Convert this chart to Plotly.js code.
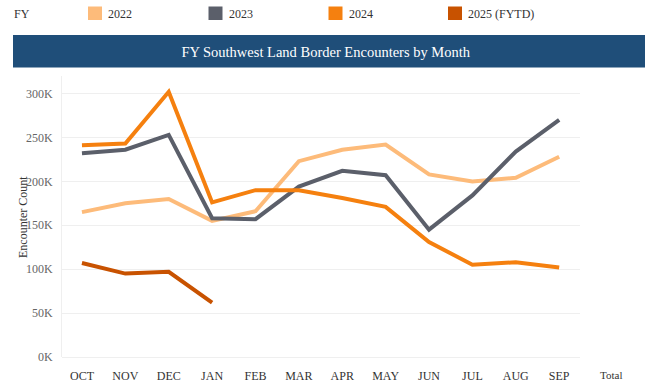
<!DOCTYPE html>
<html>
<head>
<meta charset="utf-8">
<script src="https://cdn.plot.ly/plotly-3.0.1.min.js"></script>
<style>
html,body{margin:0;padding:0;background:#fff;}
#chart{width:645px;height:387px;}
</style>
</head>
<body>
<div id="chart"></div>
<script>
const months = ["OCT","NOV","DEC","JAN","FEB","MAR","APR","MAY","JUN","JUL","AUG","SEP"];
const seriesNames = ["2022","2023","2024","2025 (FYTD)"];
const seriesColors = ["#FDBB7A","#5B5F6A","#F5800F","#C85200"];
const fy2022 = [165000,175000,180000,155000,166000,223000,236000,242000,208000,200000,204000,228000];
const fy2023 = [232000,236000,253000,158000,157000,194000,212000,207000,145000,184000,234000,270000];
const fy2024 = [241000,243000,302000,176000,190000,190000,181000,171000,131000,105000,108000,102000];
const fy2025 = [107000,95000,97000,62000];
const yTickVals = [0,50000,100000,150000,200000,250000,300000];
const yTickText = ["0K","50K","100K","150K","200K","250K","300K"];
const totalLabel = "Total";
const chartTitle = "FY Southwest Land Border Encounters by Month";
const legendTitle = "FY";
const yAxisTitle = "Encounter Count";

const allValues = [fy2022, fy2023, fy2024, fy2025];
const traces = allValues.map((vals, i) => ({
  type: "scatter",
  mode: "lines",
  name: seriesNames[i],
  x: months.slice(0, vals.length),
  y: vals,
  line: {color: seriesColors[i], width: 4},
  hoverinfo: "x+y+name",
  showlegend: false
}));

const font = "'Liberation Serif', 'Times New Roman', serif";
const shapes = [{
  type: "rect", xref: "paper", yref: "paper",
  x0: (13-62)/518, x1: (645-62)/518,
  y0: (357-67.5)/281, y1: (357-35)/281,
  fillcolor: "#1F4E79", line: {width: 0}, layer: "below"
}];
const annotations = [{
  text: legendTitle, xref: "paper", yref: "paper",
  x: (12-62)/518, y: (357-13.5)/281, xanchor: "left", yanchor: "middle",
  showarrow: false, font: {family: font, size: 12, color: "#333"}
},{
  text: totalLabel, xref: "paper", yref: "paper",
  x: (611-62)/518, y: (357-375)/281, xanchor: "center", yanchor: "middle",
  showarrow: false, font: {family: font, size: 11, color: "#333"}
},{
  text: yAxisTitle, xref: "paper", yref: "paper", textangle: -90,
  x: (23-62)/518, y: (357-217)/281, xanchor: "center", yanchor: "middle",
  showarrow: false, font: {family: font, size: 12, color: "#333"}
}];
const legendLeft = [88, 208.5, 328.5, 448];
seriesNames.forEach((n, i) => {
  const lx = legendLeft[i];
  shapes.push({
    type: "rect", xref: "paper", yref: "paper",
    x0: (lx-62)/518, x1: (lx+14-62)/518,
    y0: (357-20)/281, y1: (357-6.5)/281,
    fillcolor: seriesColors[i], line: {width: 0}
  });
  annotations.push({
    text: n, xref: "paper", yref: "paper",
    x: (lx+18-62)/518, y: (357-13.5)/281, xanchor: "left", yanchor: "middle",
    showarrow: false, font: {family: font, size: 12, color: "#333"}
  });
});

const layout = {
  width: 645, height: 387,
  margin: {l: 62, r: 65, t: 76, b: 30, pad: 0},
  paper_bgcolor: "#fff", plot_bgcolor: "#fff",
  font: {family: font},
  title: {
    text: chartTitle, x: 0.505, xanchor: "center", y: 1-51.5/387, yanchor: "middle",
    font: {family: font, size: 14.5, color: "#ffffff"}
  },
  xaxis: {
    type: "category", range: [-0.46, 11.48],
    showgrid: false, zeroline: false, showline: false,
    ticks: "", tickfont: {family: font, size: 12, color: "#333"},
    ticklabelstandoff: 10, fixedrange: true
  },
  yaxis: {
    range: [0, 320000], tickvals: yTickVals, ticktext: yTickText,
    showgrid: true, gridcolor: "#EFEFEF", gridwidth: 1,
    zeroline: true, zerolinecolor: "#EFEFEF", zerolinewidth: 1,
    showline: true, linecolor: "#EFEFEF", linewidth: 1,
    ticks: "", ticklabelstandoff: 6,
    tickfont: {family: font, size: 12, color: "#666"},
    fixedrange: true
  },
  shapes: shapes,
  annotations: annotations,
  showlegend: false
};

Plotly.newPlot("chart", traces, layout, {displayModeBar: false});
</script>
</body>
</html>
